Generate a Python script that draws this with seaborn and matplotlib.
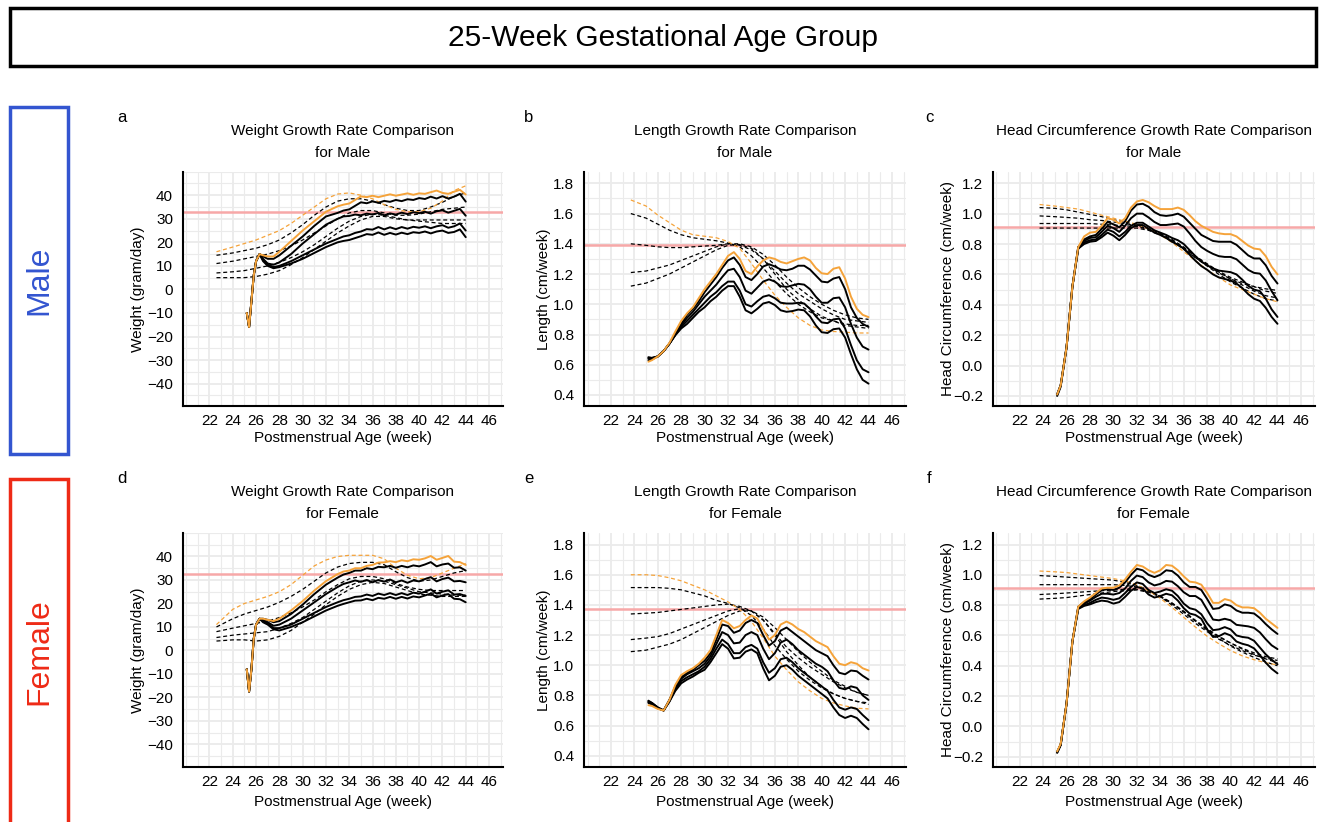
import matplotlib
matplotlib.use("Agg")
import matplotlib.pyplot as plt
import seaborn as sns
from matplotlib.patches import Rectangle
from matplotlib.ticker import FixedLocator, MultipleLocator, FuncFormatter

# ---------------- data ----------------
# weeks (postmenstrual age)
wt_solid_x = [25.2, 25.4, 25.6, 25.8, 26.0, 26.3, 26.6, 27, 27.5, 28, 29, 30, 31, 32,
              33, 33.5, 34, 34.5, 35, 35.5, 36, 36.5, 37, 37.5, 38, 38.5, 39, 39.5,
              40, 40.5, 41, 41.5, 42, 42.5, 43, 43.5, 44]
wt_dash_x = [22.6, 24, 25, 26, 27, 28, 29, 30, 31, 32, 33, 34, 35, 36, 37, 38, 39, 40,
             41, 42, 43, 44]
gr_solid_x = [25.2, 25.5, 26, 26.5, 27, 27.5, 28, 28.5, 29, 29.5, 30, 30.5, 31, 31.5, 32,
              32.5, 33, 33.5, 34, 34.5, 35, 35.5, 36, 36.5, 37, 37.5, 38, 38.5, 39, 39.5,
              40, 40.5, 41, 41.5, 42, 42.5, 43, 43.5, 44]
gr_dash_x = [23.7, 25, 26, 27, 28, 29, 30, 31, 32, 33, 34, 35, 36, 37, 38, 39, 40, 41, 42,
             43, 44]

# male weight (gram/day)
male_wt_orange = [-10, -16, -5, 6, 12, 15, 14.5, 14, 14, 16, 20.5, 25, 29, 33,
                  35.3, 36, 36.5, 38, 39.5, 39.2, 39.8, 39.2, 39.8, 40.4, 39.8, 40.3,
                  40.8, 40.2, 40.8, 40.6, 41.3, 42, 41, 40.6, 41.5, 42.3, 40.3]
male_wt_black = [
    [-10, -16, -5, 6, 12, 15, 14, 13, 13, 14.5, 18.5, 22.5, 27, 31,
     32.5, 33.5, 34, 35.5, 37, 36.6, 37.4, 36.8, 37.6, 37.2, 38, 37.5,
     38.3, 38, 38.8, 38.4, 39.4, 38.6, 39.6, 38.6, 39.4, 40.6, 37.3],
    [-10, -16, -5, 6, 12, 15, 13, 11, 10.5, 11.5, 15, 19.5, 23.5, 27.5,
     30, 31, 31.2, 31.8, 31.5, 32.2, 31.8, 32.5, 31.5, 32.3, 31.8, 32.6,
     32, 32.8, 32.4, 33, 32.2, 33.2, 33.6, 32.6, 33.4, 34.2, 31.3],
    [-10, -16, -5, 6, 12, 15, 12.5, 10.5, 9.5, 10, 12, 14.5, 17, 19.5,
     21.5, 22.5, 23, 24, 24.6, 25.6, 25.4, 26.5, 25.5, 26.4, 25.6, 26.5,
     25.8, 26.6, 26.2, 26.8, 26, 26.8, 27.3, 26.2, 26.8, 28, 25],
    [-10, -16, -5, 6, 12, 15, 12, 10, 9, 9.5, 11, 13, 15.5, 18,
     20, 20.6, 21, 21.8, 22.6, 23.5, 23.2, 24.2, 23.2, 24, 23.3, 24.1,
     23.5, 24.3, 24, 24.6, 23.8, 24.6, 25, 24, 24.4, 25.5, 22.2],
]
male_wt_dash_orange = [16, 18, 19.5, 21, 23, 25, 28, 31.5, 35, 38.5, 40.5, 41, 40, 38.5, 36,
                       34, 33, 33, 34.5, 37.5, 42, 44]
male_wt_dash_black = [
    [14.5, 15.5, 16.5, 17.5, 19, 21, 24, 27.5, 31.5, 35, 37.5, 38.5, 38.5, 37.5, 36, 34.5,
     33.5, 33.5, 35, 37, 39.5, 41],
    [11, 12, 13, 14, 15, 16.5, 18.5, 21, 24, 27, 30, 32.5, 33.5, 33.5, 32.5, 31.5, 31.5, 32,
     33, 34, 34.5, 35],
    [7, 7.5, 8, 9, 10, 11.5, 13.5, 16, 19, 22.5, 26, 29, 31, 32, 31.5, 30.5, 29.5, 29, 28.5,
     28, 28, 28],
    [5, 5, 5, 5.5, 6.5, 8, 10.5, 13.5, 17, 20.5, 24, 27, 29.5, 31, 31, 30, 29.5, 29.5, 29.5,
     29.5, 29.5, 29.5],
]

# female weight (gram/day)
female_wt_orange = [-8, -17.5, -8, 5, 11, 13.5, 13.5, 13, 12.5, 13.5, 17, 21, 25.5, 29.5,
                    32.5, 33.6, 34, 35, 35, 36, 36.4, 37.4, 37.5, 38, 37.6, 38.4,
                    38, 38.8, 38.6, 39.2, 40.2, 38.6, 39.4, 40.2, 37.8, 37.6, 36.4]
female_wt_black = [
    [-8, -17.5, -8, 5, 11, 13.5, 13.5, 13, 12, 12.5, 15.5, 19.5, 24, 28,
     31, 32.3, 33, 34, 34, 35, 34.6, 35.6, 35.4, 36, 35.2, 36,
     35.4, 36.2, 35.8, 36.6, 37.6, 35.8, 36.6, 37, 35.2, 35.4, 34],
    [-8, -17.5, -8, 5, 11, 13.5, 13, 12, 10.5, 11, 13.5, 17, 20.5, 24,
     27, 28.3, 29, 29.8, 29.2, 30, 29, 30, 29.3, 30.2, 29, 29.8,
     28.8, 29.8, 29.4, 30.4, 31.2, 29.4, 30.4, 31, 29.4, 29.6, 29],
    [-8, -17.5, -8, 5, 11, 13.5, 12.5, 11.5, 9.5, 9.5, 11, 13.5, 16, 18.5,
     20.5, 21.4, 22, 22.8, 23, 23.8, 23.2, 24.2, 23.6, 24.4, 23.6, 24.4,
     23.6, 24.6, 24.2, 25, 26, 24.2, 25, 25.6, 23.8, 24, 23.2],
    [-8, -17.5, -8, 5, 11, 13.5, 12, 11, 9, 8.5, 10, 12, 14.5, 17,
     19, 19.8, 20.5, 21.2, 21.3, 22, 21.4, 22.4, 22, 22.8, 22, 22.8,
     22.1, 23, 22.6, 23.4, 24.2, 22.6, 23.4, 24, 22, 21.8, 20.5],
]
female_wt_dash_orange = [11, 17.5, 20, 21.5, 23, 25, 28, 32, 36, 38.5, 40, 40.5, 40.5, 40.5,
                         39, 35, 32, 30.5, 31, 33, 35, 37]
female_wt_dash_black = [
    [10, 13.5, 15.5, 17, 18.5, 20.5, 23, 26, 29.5, 33, 35.5, 37, 37.5, 37.5, 36.5, 33.5, 31,
     29.5, 30, 31.5, 33, 34],
    [8, 9.5, 10.5, 11.5, 12.5, 14, 16, 18.5, 21.5, 25, 28, 30.5, 31.5, 31.5, 30.5, 28.5, 27,
     26, 25.5, 25.5, 25.5, 25.5],
    [5.5, 6.5, 7, 7.5, 8, 9.5, 11.5, 14, 17.5, 21, 24.5, 27.5, 29.5, 30, 29.5, 28, 26.5, 25,
     24.5, 24, 23.5, 23.5],
    [4, 4.5, 4.5, 4, 4.5, 6, 8.5, 12, 15.5, 19.5, 23, 26, 28, 29, 28.5, 27, 25.5, 24, 23.5,
     23, 23, 23],
]

# male length (cm/week)
male_len_orange = [0.62, 0.63, 0.655, 0.69, 0.745, 0.82, 0.89, 0.94, 0.98, 1.04,
                   1.10, 1.15, 1.20, 1.26, 1.32, 1.345, 1.30, 1.22, 1.20, 1.25,
                   1.29, 1.31, 1.30, 1.28, 1.27, 1.285, 1.30, 1.31, 1.29, 1.24,
                   1.205, 1.20, 1.235, 1.245, 1.17, 1.05, 0.97, 0.93, 0.915]
male_len_black = [
    [0.63, 0.635, 0.655, 0.69, 0.74, 0.80, 0.87, 0.93, 0.97, 1.02,
     1.08, 1.13, 1.18, 1.24, 1.29, 1.31, 1.26, 1.18, 1.16, 1.20,
     1.25, 1.265, 1.25, 1.23, 1.225, 1.235, 1.255, 1.255, 1.23, 1.19,
     1.15, 1.145, 1.17, 1.18, 1.10, 0.98, 0.91, 0.87, 0.85],
    [0.64, 0.64, 0.655, 0.69, 0.74, 0.80, 0.86, 0.91, 0.95, 1.00,
     1.05, 1.09, 1.13, 1.18, 1.225, 1.235, 1.18, 1.09, 1.07, 1.11,
     1.15, 1.165, 1.15, 1.12, 1.115, 1.125, 1.135, 1.13, 1.10, 1.05,
     1.01, 1.01, 1.04, 1.045, 0.98, 0.87, 0.78, 0.72, 0.70],
    [0.645, 0.645, 0.655, 0.69, 0.74, 0.80, 0.85, 0.89, 0.93, 0.97,
     1.01, 1.05, 1.08, 1.12, 1.15, 1.15, 1.09, 1.00, 0.985, 1.02,
     1.05, 1.06, 1.04, 1.01, 1.005, 1.005, 1.01, 1.005, 0.97, 0.92,
     0.88, 0.875, 0.90, 0.905, 0.84, 0.73, 0.63, 0.57, 0.55],
    [0.65, 0.645, 0.655, 0.69, 0.74, 0.795, 0.84, 0.87, 0.91, 0.95,
     0.98, 1.02, 1.05, 1.09, 1.12, 1.12, 1.05, 0.96, 0.94, 0.97,
     1.005, 1.015, 0.995, 0.96, 0.95, 0.955, 0.965, 0.96, 0.92, 0.86,
     0.815, 0.81, 0.835, 0.84, 0.78, 0.67, 0.57, 0.50, 0.475],
]
male_len_dash_orange = [1.69, 1.65, 1.59, 1.54, 1.49, 1.46, 1.45, 1.44, 1.415, 1.37, 1.27,
                        1.16, 1.06, 0.98, 0.91, 0.86, 0.83, 0.82, 0.815, 0.81, 0.81]
male_len_dash_black = [
    [1.60, 1.57, 1.53, 1.49, 1.46, 1.44, 1.43, 1.42, 1.405, 1.38, 1.32, 1.24, 1.15, 1.07,
     1.00, 0.95, 0.91, 0.89, 0.87, 0.86, 0.86],
    [1.40, 1.39, 1.38, 1.375, 1.375, 1.38, 1.385, 1.39, 1.40, 1.39, 1.36, 1.30, 1.22, 1.14,
     1.07, 1.02, 0.97, 0.93, 0.90, 0.89, 0.88],
    [1.21, 1.22, 1.24, 1.26, 1.29, 1.32, 1.35, 1.38, 1.40, 1.40, 1.38, 1.33, 1.26, 1.18,
     1.11, 1.05, 1.00, 0.96, 0.93, 0.91, 0.90],
    [1.12, 1.14, 1.17, 1.20, 1.24, 1.28, 1.32, 1.36, 1.39, 1.395, 1.37, 1.30, 1.20, 1.10,
     1.03, 0.97, 0.92, 0.89, 0.86, 0.85, 0.84],
]

# female length (cm/week)
female_len_orange = [0.735, 0.73, 0.71, 0.70, 0.77, 0.87, 0.935, 0.96, 0.98, 1.01,
                     1.05, 1.10, 1.20, 1.30, 1.28, 1.245, 1.26, 1.30, 1.33, 1.31,
                     1.24, 1.17, 1.20, 1.27, 1.29, 1.27, 1.24, 1.22, 1.19, 1.16,
                     1.14, 1.12, 1.06, 1.01, 1.00, 1.02, 1.01, 0.98, 0.965]
female_len_black = [
    [0.75, 0.74, 0.715, 0.70, 0.77, 0.86, 0.92, 0.95, 0.97, 1.00,
     1.03, 1.08, 1.17, 1.27, 1.26, 1.215, 1.23, 1.28, 1.30, 1.28,
     1.20, 1.13, 1.16, 1.23, 1.25, 1.22, 1.19, 1.16, 1.13, 1.10,
     1.08, 1.06, 1.00, 0.95, 0.94, 0.965, 0.96, 0.93, 0.905],
    [0.755, 0.745, 0.715, 0.70, 0.77, 0.85, 0.91, 0.94, 0.96, 0.98,
     1.01, 1.06, 1.14, 1.22, 1.20, 1.145, 1.15, 1.20, 1.22, 1.20,
     1.11, 1.04, 1.08, 1.15, 1.17, 1.14, 1.10, 1.07, 1.04, 1.01,
     0.99, 0.96, 0.90, 0.85, 0.84, 0.86, 0.85, 0.80, 0.77],
    [0.76, 0.75, 0.72, 0.70, 0.76, 0.84, 0.895, 0.92, 0.94, 0.96,
     0.99, 1.04, 1.11, 1.17, 1.14, 1.08, 1.08, 1.12, 1.135, 1.11,
     1.02, 0.95, 0.98, 1.04, 1.05, 1.02, 0.98, 0.95, 0.92, 0.89,
     0.86, 0.83, 0.77, 0.72, 0.705, 0.72, 0.71, 0.67, 0.635],
    [0.765, 0.75, 0.72, 0.70, 0.76, 0.83, 0.88, 0.905, 0.925, 0.95,
     0.97, 1.02, 1.08, 1.14, 1.11, 1.045, 1.05, 1.09, 1.105, 1.08,
     0.98, 0.90, 0.93, 0.99, 1.00, 0.97, 0.93, 0.90, 0.87, 0.84,
     0.81, 0.78, 0.72, 0.67, 0.65, 0.665, 0.65, 0.61, 0.575],
]
female_len_dash_orange = [1.60, 1.60, 1.595, 1.58, 1.56, 1.53, 1.50, 1.46, 1.42, 1.37, 1.29,
                          1.18, 1.06, 0.97, 0.89, 0.83, 0.78, 0.75, 0.73, 0.715, 0.71]
female_len_dash_black = [
    [1.515, 1.515, 1.515, 1.51, 1.50, 1.48, 1.46, 1.43, 1.41, 1.38, 1.33, 1.24, 1.13, 1.04,
     0.96, 0.90, 0.85, 0.81, 0.78, 0.76, 0.74],
    [1.34, 1.345, 1.35, 1.36, 1.37, 1.38, 1.39, 1.40, 1.405, 1.39, 1.36, 1.30, 1.21, 1.12,
     1.05, 0.99, 0.94, 0.89, 0.85, 0.82, 0.80],
    [1.17, 1.18, 1.19, 1.21, 1.24, 1.27, 1.30, 1.33, 1.36, 1.375, 1.36, 1.32, 1.25, 1.17,
     1.09, 1.02, 0.96, 0.90, 0.86, 0.82, 0.80],
    [1.09, 1.10, 1.12, 1.14, 1.17, 1.21, 1.25, 1.29, 1.33, 1.36, 1.36, 1.30, 1.20, 1.09,
     1.00, 0.92, 0.86, 0.81, 0.78, 0.76, 0.75],
]

# male head circumference (cm/week)
male_hc_orange = [-0.19, -0.13, 0.12, 0.52, 0.78, 0.85, 0.875, 0.88, 0.92, 0.97,
                  0.96, 0.935, 0.97, 1.04, 1.08, 1.09, 1.075, 1.05, 1.03, 1.03,
                  1.03, 1.04, 1.025, 0.99, 0.95, 0.92, 0.90, 0.88, 0.87, 0.865,
                  0.865, 0.85, 0.82, 0.79, 0.77, 0.765, 0.72, 0.65, 0.60]
male_hc_black = [
    [-0.19, -0.13, 0.12, 0.52, 0.78, 0.83, 0.85, 0.86, 0.90, 0.945,
     0.93, 0.91, 0.95, 1.02, 1.06, 1.065, 1.045, 1.01, 0.99, 0.985,
     0.99, 1.00, 0.98, 0.94, 0.90, 0.86, 0.84, 0.82, 0.815, 0.815,
     0.815, 0.795, 0.76, 0.725, 0.705, 0.705, 0.66, 0.59, 0.54],
    [-0.19, -0.13, 0.12, 0.52, 0.78, 0.82, 0.84, 0.845, 0.88, 0.92,
     0.905, 0.88, 0.92, 0.97, 1.00, 1.00, 0.975, 0.945, 0.925, 0.925,
     0.93, 0.935, 0.915, 0.87, 0.82, 0.78, 0.755, 0.735, 0.72, 0.715,
     0.715, 0.70, 0.665, 0.63, 0.61, 0.605, 0.56, 0.49, 0.43],
    [-0.19, -0.13, 0.12, 0.52, 0.77, 0.81, 0.825, 0.83, 0.86, 0.895,
     0.88, 0.85, 0.88, 0.92, 0.94, 0.94, 0.915, 0.89, 0.875, 0.86,
     0.84, 0.825, 0.80, 0.76, 0.72, 0.685, 0.66, 0.64, 0.625, 0.62,
     0.615, 0.60, 0.565, 0.525, 0.50, 0.49, 0.44, 0.37, 0.32],
    [-0.20, -0.14, 0.12, 0.52, 0.77, 0.80, 0.815, 0.82, 0.845, 0.875,
     0.855, 0.825, 0.86, 0.905, 0.925, 0.925, 0.90, 0.875, 0.86, 0.84,
     0.815, 0.795, 0.77, 0.73, 0.69, 0.655, 0.63, 0.60, 0.58, 0.57,
     0.56, 0.54, 0.51, 0.47, 0.44, 0.425, 0.38, 0.32, 0.275],
]
male_hc_dash_orange = [1.06, 1.05, 1.04, 1.03, 1.01, 0.99, 0.97, 0.95, 0.93, 0.90, 0.86,
                       0.81, 0.75, 0.69, 0.63, 0.58, 0.53, 0.50, 0.47, 0.44, 0.42]
male_hc_dash_black = [
    [1.04, 1.035, 1.025, 1.01, 0.995, 0.98, 0.96, 0.945, 0.925, 0.90, 0.865, 0.82, 0.77,
     0.71, 0.66, 0.61, 0.57, 0.54, 0.52, 0.505, 0.495],
    [0.985, 0.98, 0.975, 0.97, 0.96, 0.955, 0.945, 0.935, 0.92, 0.90, 0.87, 0.83, 0.78,
     0.72, 0.67, 0.62, 0.58, 0.55, 0.52, 0.49, 0.475],
    [0.935, 0.935, 0.935, 0.935, 0.935, 0.93, 0.925, 0.92, 0.915, 0.895, 0.865, 0.825,
     0.775, 0.72, 0.665, 0.615, 0.57, 0.53, 0.49, 0.46, 0.445],
    [0.905, 0.905, 0.905, 0.905, 0.905, 0.905, 0.905, 0.905, 0.905, 0.89, 0.86, 0.82,
     0.765, 0.71, 0.655, 0.60, 0.55, 0.51, 0.47, 0.44, 0.425],
]

# female head circumference (cm/week)
female_hc_orange = [-0.165, -0.115, 0.15, 0.56, 0.79, 0.825, 0.85, 0.88, 0.91, 0.915,
                    0.915, 0.93, 0.97, 1.02, 1.065, 1.055, 1.03, 1.013, 1.03, 1.065,
                    1.06, 1.03, 0.99, 0.955, 0.95, 0.935, 0.88, 0.815, 0.815, 0.84,
                    0.83, 0.80, 0.785, 0.785, 0.78, 0.75, 0.71, 0.68, 0.65]
female_hc_black = [
    [-0.17, -0.12, 0.15, 0.56, 0.79, 0.82, 0.84, 0.87, 0.90, 0.905,
     0.90, 0.915, 0.95, 1.00, 1.04, 1.03, 1.00, 0.985, 1.00, 1.03,
     1.025, 0.995, 0.95, 0.92, 0.92, 0.90, 0.84, 0.775, 0.78, 0.805,
     0.795, 0.765, 0.75, 0.75, 0.745, 0.715, 0.675, 0.64, 0.61],
    [-0.17, -0.12, 0.15, 0.56, 0.785, 0.81, 0.83, 0.855, 0.875, 0.875,
     0.87, 0.88, 0.91, 0.96, 0.995, 0.985, 0.95, 0.93, 0.94, 0.96,
     0.955, 0.925, 0.885, 0.86, 0.86, 0.835, 0.77, 0.705, 0.70, 0.71,
     0.70, 0.67, 0.665, 0.66, 0.65, 0.62, 0.575, 0.535, 0.51],
    [-0.17, -0.12, 0.15, 0.56, 0.78, 0.80, 0.815, 0.835, 0.85, 0.845,
     0.835, 0.845, 0.88, 0.92, 0.95, 0.94, 0.90, 0.88, 0.89, 0.905,
     0.895, 0.86, 0.81, 0.78, 0.77, 0.74, 0.68, 0.635, 0.64, 0.655,
     0.64, 0.60, 0.59, 0.585, 0.565, 0.52, 0.475, 0.44, 0.41],
    [-0.175, -0.125, 0.15, 0.56, 0.775, 0.795, 0.805, 0.82, 0.83, 0.825,
     0.81, 0.82, 0.855, 0.895, 0.92, 0.91, 0.87, 0.85, 0.86, 0.875,
     0.865, 0.83, 0.78, 0.745, 0.735, 0.71, 0.64, 0.59, 0.595, 0.615,
     0.60, 0.56, 0.545, 0.535, 0.515, 0.47, 0.42, 0.38, 0.35],
]
female_hc_dash_orange = [1.025, 1.02, 1.015, 1.005, 0.995, 0.985, 0.975, 0.96, 0.935, 0.895,
                         0.845, 0.785, 0.72, 0.655, 0.595, 0.545, 0.50, 0.465, 0.44, 0.42,
                         0.405]
female_hc_dash_black = [
    [0.995, 0.99, 0.985, 0.98, 0.975, 0.97, 0.965, 0.95, 0.93, 0.90, 0.855, 0.80, 0.74,
     0.68, 0.625, 0.575, 0.535, 0.50, 0.47, 0.45, 0.435],
    [0.935, 0.935, 0.935, 0.935, 0.935, 0.935, 0.935, 0.93, 0.92, 0.895, 0.86, 0.81, 0.755,
     0.695, 0.64, 0.59, 0.55, 0.515, 0.485, 0.46, 0.445],
    [0.87, 0.875, 0.88, 0.885, 0.89, 0.895, 0.90, 0.905, 0.905, 0.89, 0.86, 0.815, 0.76,
     0.70, 0.645, 0.595, 0.55, 0.51, 0.475, 0.445, 0.42],
    [0.84, 0.845, 0.85, 0.86, 0.87, 0.88, 0.89, 0.895, 0.90, 0.885, 0.855, 0.81, 0.755,
     0.695, 0.635, 0.58, 0.53, 0.49, 0.455, 0.425, 0.40],
]

# reference lines (pink)
ref_levels = {"a": 33, "b": 1.395, "c": 0.91, "d": 32.5, "e": 1.375, "f": 0.915}

x_ticks = [22, 24, 26, 28, 30, 32, 34, 36, 38, 40, 42, 44, 46]
wt_ticks = [-40, -30, -20, -10, 0, 10, 20, 30, 40]
len_ticks = [0.4, 0.6, 0.8, 1.0, 1.2, 1.4, 1.6, 1.8]
hc_ticks = [-0.2, 0.0, 0.2, 0.4, 0.6, 0.8, 1.0, 1.2]

# ---------------- style ----------------
sns.set_theme(style="white")
plt.rcParams["font.family"] = ["Liberation Sans", "DejaVu Sans"]
plt.rcParams["text.color"] = "black"
plt.rcParams["axes.labelcolor"] = "black"

ORANGE = "#F5A33A"
PINK = "#F7A8A8"
GRID = "#EBEBEB"
W, H = 1322, 822

fig = plt.figure(figsize=(13.22, 8.22), dpi=100)


def px_box(x0, y0, x1, y1):
    return [x0 / W, 1 - y1 / H, (x1 - x0) / W, (y1 - y0) / H]


def fmt_int(v, pos):
    return ("%d" % round(v)).replace("-", "\u2212")


def fmt_dec(v, pos):
    return ("%.1f" % v).replace("-", "\u2212")


cols = [(182.7, 503), (584, 906), (992.7, 1315)]
rows = [(171.7, 406), (533, 766.7)]

panels = [
    ("a", 0, 0, "Weight Growth Rate Comparison\nfor Male", "Weight (gram/day)",
     wt_solid_x, male_wt_orange, male_wt_black, wt_dash_x, male_wt_dash_orange,
     male_wt_dash_black, wt_ticks, (-49.5, 50), 5, fmt_int, -0.118),
    ("b", 0, 1, "Length Growth Rate Comparison\nfor Male", "Length (cm/week)",
     gr_solid_x, male_len_orange, male_len_black, gr_dash_x, male_len_dash_orange,
     male_len_dash_black, len_ticks, (0.327, 1.877), 0.1, fmt_dec, -0.103),
    ("c", 0, 2, "Head Circumference Growth Rate Comparison\nfor Male",
     "Head Circumference (cm/week)",
     gr_solid_x, male_hc_orange, male_hc_black, gr_dash_x, male_hc_dash_orange,
     male_hc_dash_black, hc_ticks, (-0.266, 1.276), 0.1, fmt_dec, -0.118),
    ("d", 1, 0, "Weight Growth Rate Comparison\nfor Female", "Weight (gram/day)",
     wt_solid_x, female_wt_orange, female_wt_black, wt_dash_x, female_wt_dash_orange,
     female_wt_dash_black, wt_ticks, (-49.5, 50), 5, fmt_int, -0.118),
    ("e", 1, 1, "Length Growth Rate Comparison\nfor Female", "Length (cm/week)",
     gr_solid_x, female_len_orange, female_len_black, gr_dash_x, female_len_dash_orange,
     female_len_dash_black, len_ticks, (0.327, 1.877), 0.1, fmt_dec, -0.103),
    ("f", 1, 2, "Head Circumference Growth Rate Comparison\nfor Female",
     "Head Circumference (cm/week)",
     gr_solid_x, female_hc_orange, female_hc_black, gr_dash_x, female_hc_dash_orange,
     female_hc_dash_black, hc_ticks, (-0.266, 1.276), 0.1, fmt_dec, -0.118),
]

dash_style = (0, (3.2, 2.2))

for (tag, r, c, title, ylab, sx, s_or, s_bl, dx, d_or, d_bl, yt, ylim, yminor,
     fmt, ylab_x) in panels:
    x0, x1 = cols[c]
    y0, y1 = rows[r]
    ax = fig.add_axes(px_box(x0, y0, x1, y1))
    ax.set_axisbelow(True)

    # reference line
    ax.axhline(ref_levels[tag], color=PINK, lw=1.8, zorder=1)

    # dashed reference curves
    for ys in d_bl:
        sns.lineplot(x=dx, y=ys, ax=ax, color="black", lw=0.9, linestyle=dash_style,
                     zorder=2)
    sns.lineplot(x=dx, y=d_or, ax=ax, color=ORANGE, lw=0.9, linestyle=dash_style, zorder=2)

    # solid percentile curves
    for ys in s_bl:
        sns.lineplot(x=sx, y=ys, ax=ax, color="black", lw=1.4, zorder=3)
    sns.lineplot(x=sx, y=s_or, ax=ax, color=ORANGE, lw=1.4, zorder=4)

    ax.set_xlim(19.7, 47.2)
    ax.set_ylim(*ylim)
    ax.xaxis.set_major_locator(FixedLocator(x_ticks))
    ax.xaxis.set_minor_locator(MultipleLocator(1))
    ax.yaxis.set_major_locator(FixedLocator(yt))
    ax.yaxis.set_minor_locator(MultipleLocator(yminor))
    ax.yaxis.set_major_formatter(FuncFormatter(fmt))
    ax.grid(which="major", color=GRID, lw=1.3)
    ax.grid(which="minor", color=GRID, lw=0.8)
    ax.tick_params(which="both", length=0, labelsize=11, colors="black")
    ax.tick_params(axis="y", pad=7)
    ax.tick_params(axis="x", pad=6)
    for s in ["top", "right"]:
        ax.spines[s].set_visible(False)
    for s in ["left", "bottom"]:
        ax.spines[s].set_color("black")
        ax.spines[s].set_linewidth(1.5)

    ax.set_xlabel("Postmenstrual Age (week)", fontsize=11)
    ax.set_ylabel(ylab, fontsize=11)
    ax.xaxis.set_label_coords(0.5, -0.105 if r == 0 else -0.12)
    ax.yaxis.set_label_coords(ylab_x, 0.5)

    # titles
    cx = (x0 + x1) / 2
    ty = 131 if r == 0 else 492
    line1, line2 = title.split("\n")
    fig.text(cx / W, 1 - ty / H, line1, ha="center", va="center", fontsize=11)
    fig.text(cx / W, 1 - (ty + 22) / H, line2, ha="center", va="center", fontsize=11)
    letter_x = [122, 529, 929][c]
    letter_y = 117 if r == 0 else 478
    fig.text(letter_x / W, 1 - letter_y / H, tag, ha="center", va="center", fontsize=12)

# overall title box
fig.patches.append(Rectangle((10 / W, 1 - 66 / H), 1306 / W, 58 / H, transform=fig.transFigure,
                             fill=False, ec="black", lw=2.5))
fig.text(663 / W, 1 - 38.5 / H, "25-Week Gestational Age Group", ha="center", va="center",
         fontsize=21.5)

# sex boxes
BLUE = "#3355D0"
RED = "#EE2A16"
fig.patches.append(Rectangle((10 / W, 1 - 454 / H), 58 / W, 347 / H, transform=fig.transFigure,
                             fill=False, ec=BLUE, lw=2.5))
fig.text(39 / W, 1 - 280 / H, "Male", rotation=90, ha="center", va="center",
         fontsize=23, color=BLUE)
fig.patches.append(Rectangle((10 / W, -0.05), 58 / W, (1 - 479 / H) + 0.05,
                             transform=fig.transFigure, fill=False, ec=RED, lw=2.5))
fig.text(39 / W, 1 - 652 / H, "Female", rotation=90, ha="center", va="center",
         fontsize=23, color=RED)

plt.savefig("out.png", dpi=100)
